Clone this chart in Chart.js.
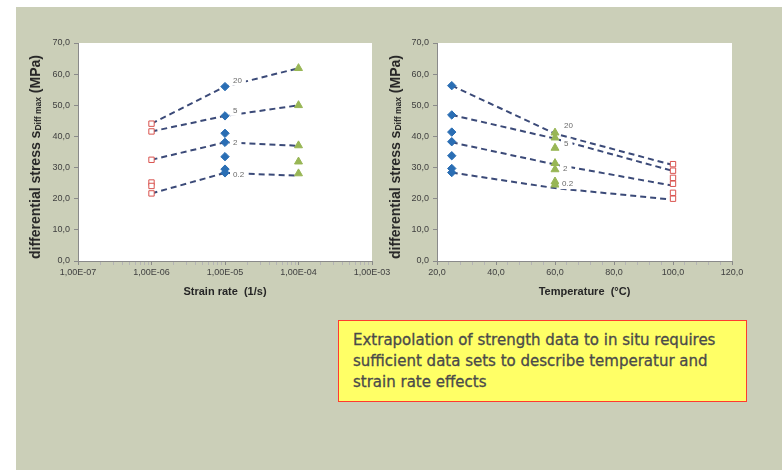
<!DOCTYPE html>
<html><head><meta charset="utf-8">
<script src="https://cdn.jsdelivr.net/npm/chart.js@4.4.1/dist/chart.umd.min.js"></script>
<style>
html,body{margin:0;padding:0;background:#fff;width:782px;height:470px;overflow:hidden;}
#bg{position:absolute;left:16px;top:7px;width:766px;height:463px;background:#CBCFB8;}
canvas{position:absolute;}
.ytitle{position:absolute;font:bold 14px "Liberation Sans",Arial,sans-serif;color:#262626;white-space:nowrap;transform:translate(-50%,-50%) rotate(-90deg);}
.ytitle sub{font-size:8.5px;vertical-align:-1px;}
#note{position:absolute;left:338px;top:320px;width:393px;height:71px;padding:9px 0 0 14px;background:#FFFF66;border:1.5px solid #FF3B2F;font:15px "DejaVu Sans",Verdana,sans-serif;line-height:21px;color:#4a4a4a;-webkit-text-stroke:0.3px #4a4a4a;white-space:nowrap;}
</style></head>
<body>
<div id="bg"></div>
<canvas id="c1" width="386" height="280" style="left:16px;top:30px"></canvas>
<canvas id="c2" width="386" height="280" style="left:395px;top:30px"></canvas>
<div class="ytitle" style="left:35px;top:157px">differential stress s<sub>Diff max</sub> (MPa)</div>
<div class="ytitle" style="left:395px;top:157px">differential stress s<sub>Diff max</sub> (MPa)</div>
<div id="note">Extrapolation of strength data to in situ requires<br>sufficient data sets to describe temperatur and<br>strain rate effects</div>
<script>
// ---------- data ----------
const seriesNames = ['20', '5', '2', '0.2'];
const yTickLabels = ['0,0','10,0','20,0','30,0','40,0','50,0','60,0','70,0'];

// left chart: strain rate (1/s), log axis
const strainRates = [1e-6, 1e-5, 1e-4];
const rateTickValues = [1e-7, 1e-6, 1e-5, 1e-4, 1e-3];
const rateTickLabels = ['1,00E-07','1,00E-06','1,00E-05','1,00E-04','1,00E-03'];
const sqLeft  = [44.1, 41.6, 32.5, 25.2, 24.1, 21.7];        // at 1E-06
const diaLeft = [56.0, 46.6, 41.0, 38.1, 33.5, 29.5, 28.3];  // at 1E-05
const triLeft = [61.9, 50.0, 37.1, 31.9, 28.1];              // at 1E-04
const fitLeft20  = [44.1, 56.0, 61.9];
const fitLeft5   = [41.6, 46.6, 50.0];
const fitLeft2   = [32.5, 38.1, 37.0];
const fitLeft02  = [21.7, 28.3, 27.4];

// right chart: temperature (°C)
const temps = [25, 60, 100];
const tempTickValues = [20, 40, 60, 80, 100, 120];
const tempTickLabels = ['20,0','40,0','60,0','80,0','100,0','120,0'];
const diaRight = [56.3, 46.9, 41.4, 38.3, 33.8, 29.7, 28.4]; // at 25
const triRight = [41.2, 39.6, 36.3, 31.4, 29.4, 25.5, 24.5]; // at 60
const sqRight  = [31.1, 29.0, 26.7, 24.8, 21.9, 20.0];       // at 100
const fitRight20 = [56.3, 40.9, 30.8];
const fitRight5  = [46.9, 39.3, 28.9];
const fitRight2  = [38.1, 31.0, 24.2];
const fitRight02 = [28.4, 23.4, 19.7];

// ---------- styles ----------
const FONT = '"Liberation Sans", Arial, sans-serif';
const LINE_COLOR = '#3B4A78';
const AXIS_COLOR = '#8a8a8a';

function fitDataset(xs, ys) {
  return { data: xs.map((x, i) => ({ x, y: ys[i] })), showLine: true, borderColor: LINE_COLOR,
    borderWidth: 2, borderDash: [6, 4], pointRadius: 0, fill: false, order: 1 };
}
function pointDataset(x, ys, style) {
  return Object.assign({ data: ys.map(y => ({ x, y })), showLine: false, order: 0 }, style);
}
const SQ = { pointStyle: 'rect', pointRadius: 3.8, backgroundColor: '#ffffff', borderColor: '#D9534F', borderWidth: 1 };
const DIA = { pointStyle: 'rectRot', pointRadius: 4.2, backgroundColor: '#2A6EB4', borderColor: '#2A6EB4', borderWidth: 1 };
const TRI = { pointStyle: 'triangle', pointRadius: 4.6, backgroundColor: '#98B655', borderColor: '#98B655', borderWidth: 1 };

const plotBg = {
  id: 'plotBg',
  beforeDraw(chart) {
    const { ctx, chartArea: a } = chart;
    ctx.save(); ctx.fillStyle = '#ffffff';
    ctx.fillRect(a.left, a.top, a.right - a.left, a.bottom - a.top);
    ctx.restore();
  }
};
const seriesLabels = {
  id: 'seriesLabels',
  afterDatasetsDraw(chart, args, opts) {
    const { ctx } = chart;
    const xs = chart.scales.x, ys = chart.scales.y;
    ctx.save();
    ctx.font = '8px ' + FONT;
    ctx.textBaseline = 'middle';
    opts.items.forEach(it => {
      const px = xs.getPixelForValue(it.x) + it.dx;
      const py = ys.getPixelForValue(it.y) + it.dy;
      const w = ctx.measureText(it.text).width;
      ctx.fillStyle = '#ffffff';
      ctx.fillRect(px - 3, py - 5, w + 7, 10);
      ctx.fillStyle = '#6a6a6a';
      ctx.fillText(it.text, px, py);
    });
    ctx.restore();
  }
};

function yScale(width) {
  return {
    type: 'linear', min: 0, max: 70,
    afterFit(s) { s.width = width; },
    afterBuildTicks(s) { s.ticks = yTickLabels.map((_, i) => ({ value: i * 10 })); },
    ticks: { callback: (v, i) => yTickLabels[i], font: { size: 9, family: FONT }, color: '#3f3f3f', padding: 4 },
    grid: { drawOnChartArea: false, drawTicks: true, tickLength: 4, tickColor: AXIS_COLOR },
    border: { display: true, color: AXIS_COLOR, width: 1 }
  };
}

function makeChart(id, xScale, yWidth, rightPad, datasets, labels) {
  return new Chart(document.getElementById(id), {
    type: 'scatter',
    data: { datasets },
    options: {
      responsive: false, animation: false, devicePixelRatio: 1,
      layout: { padding: { left: 0, top: 13, right: rightPad, bottom: 0 } },
      plugins: { legend: { display: false }, tooltip: { enabled: false }, seriesLabels: { items: labels } },
      scales: { x: xScale, y: yScale(yWidth) }
    },
    plugins: [plotBg, seriesLabels]
  });
}

// ---------- left chart ----------
const leftMinor = [];
for (let e = -7; e < -3; e++) for (let m = 1; m < 10; m++) leftMinor.push(m * Math.pow(10, e));
leftMinor.push(1e-3);
makeChart('c1', {
  type: 'logarithmic', min: 1e-7, max: 1e-3,
  afterFit(s) { s.height = 49; },
  afterBuildTicks(s) { s.ticks = leftMinor.map(v => ({ value: v })); },
  ticks: {
    autoSkip: false, maxRotation: 0, padding: 2, font: { size: 9, family: FONT }, color: '#3f3f3f',
    callback: (v) => { const k = rateTickValues.findIndex(t => Math.abs(t - v) / t < 1e-6); return k >= 0 ? rateTickLabels[k] : ''; }
  },
  grid: { drawOnChartArea: false, drawTicks: true, tickLength: 4,
    tickColor: (c) => (c.tick && rateTickValues.some(t => Math.abs(t - c.tick.value) / t < 1e-6)) ? AXIS_COLOR : '#b5b5b5' },
  border: { display: true, color: AXIS_COLOR, width: 1 },
  title: { display: true, text: 'Strain rate  (1/s)', font: { size: 11, weight: 'bold', family: FONT }, color: '#262626', padding: { top: 0, bottom: 11 } }
}, 62, 30, [
  fitDataset(strainRates, fitLeft20), fitDataset(strainRates, fitLeft5),
  fitDataset(strainRates, fitLeft2), fitDataset(strainRates, fitLeft02),
  pointDataset(strainRates[0], sqLeft, SQ),
  pointDataset(strainRates[1], diaLeft, DIA),
  pointDataset(strainRates[2], triLeft, TRI)
], [
  { text: seriesNames[0], x: strainRates[1], y: fitLeft20[1], dx: 8, dy: -6 },
  { text: seriesNames[1], x: strainRates[1], y: fitLeft5[1], dx: 8, dy: -5 },
  { text: seriesNames[2], x: strainRates[1], y: fitLeft2[1], dx: 8, dy: 0 },
  { text: seriesNames[3], x: strainRates[1], y: fitLeft02[1], dx: 8, dy: 2 }
]);

// ---------- right chart ----------
const rightMinor = [];
for (let t = 20; t <= 120; t += 4) rightMinor.push(t);
makeChart('c2', {
  type: 'linear', min: 20, max: 120,
  afterFit(s) { s.height = 49; },
  afterBuildTicks(s) { s.ticks = rightMinor.map(v => ({ value: v })); },
  ticks: {
    autoSkip: false, maxRotation: 0, padding: 2, font: { size: 9, family: FONT }, color: '#3f3f3f',
    callback: (v) => { const k = tempTickValues.indexOf(v); return k >= 0 ? tempTickLabels[k] : ''; }
  },
  grid: { drawOnChartArea: false, drawTicks: true, tickLength: 4,
    tickColor: (c) => (c.tick && tempTickValues.includes(c.tick.value)) ? AXIS_COLOR : '#b5b5b5' },
  border: { display: true, color: AXIS_COLOR, width: 1 },
  title: { display: true, text: 'Temperature  (°C)', font: { size: 11, weight: 'bold', family: FONT }, color: '#262626', padding: { top: 0, bottom: 11 } }
}, 42, 49, [
  fitDataset(temps, fitRight20), fitDataset(temps, fitRight5),
  fitDataset(temps, fitRight2), fitDataset(temps, fitRight02),
  pointDataset(temps[0], diaRight, DIA),
  pointDataset(temps[1], triRight, TRI),
  pointDataset(temps[2], sqRight, SQ)
], [
  { text: seriesNames[0], x: temps[1], y: fitRight20[1], dx: 9, dy: -8 },
  { text: seriesNames[1], x: temps[1], y: fitRight5[1], dx: 9, dy: 5 },
  { text: seriesNames[2], x: temps[1], y: fitRight2[1], dx: 8, dy: 4 },
  { text: seriesNames[3], x: temps[1], y: fitRight02[1], dx: 7, dy: -4 }
]);
</script>
</body></html>
